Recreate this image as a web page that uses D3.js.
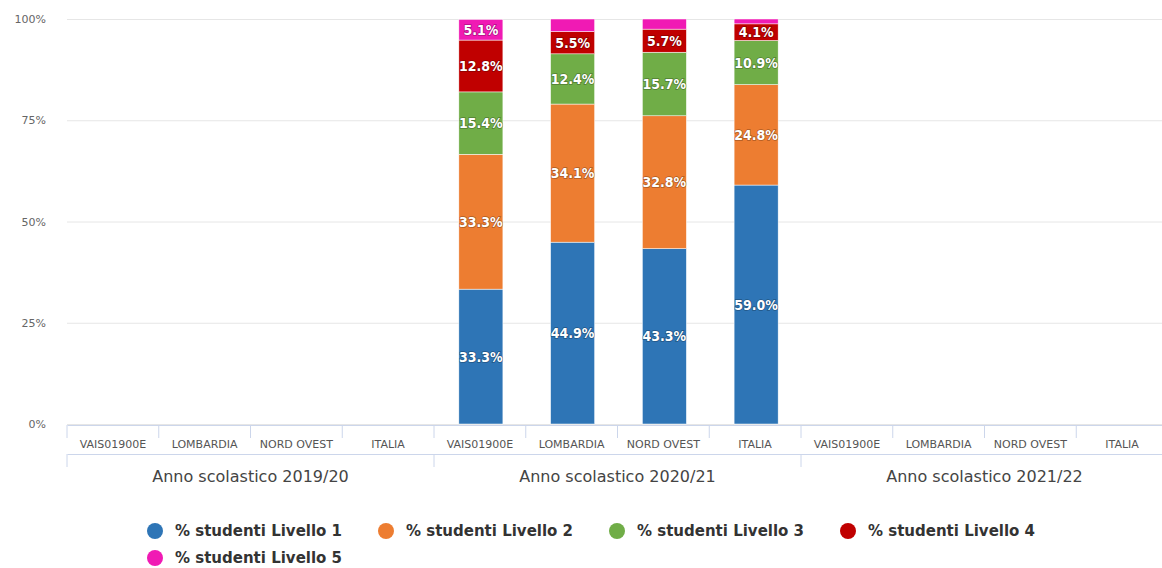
<!DOCTYPE html>
<html>
<head>
<meta charset="utf-8">
<script src="https://cdn.jsdelivr.net/npm/d3@7"></script>
<style>
  body { margin: 0; background: #fff; overflow: hidden; }
  svg { font-family: "DejaVu Sans", sans-serif; }
</style>
</head>
<body>
<svg id="chart" width="1162" height="568"></svg>
<script>
const groups = ["Anno scolastico 2019/20", "Anno scolastico 2020/21", "Anno scolastico 2021/22"];
const categories = ["VAIS01900E", "LOMBARDIA", "NORD OVEST", "ITALIA"];
const seriesNames = ["% studenti Livello 1", "% studenti Livello 2", "% studenti Livello 3", "% studenti Livello 4", "% studenti Livello 5"];
// values per series, one per category in group order (null = no data)
const livello1 = [null, null, null, null, 33.3, 44.9, 43.3, 59.0, null, null, null, null];
const livello2 = [null, null, null, null, 33.3, 34.1, 32.8, 24.8, null, null, null, null];
const livello3 = [null, null, null, null, 15.4, 12.4, 15.7, 10.9, null, null, null, null];
const livello4 = [null, null, null, null, 12.8, 5.5, 5.7, 4.1, null, null, null, null];
const livello5 = [null, null, null, null, 5.1, 3.1, 2.5, 1.2, null, null, null, null];
const yTicks = [0, 25, 50, 75, 100];

const colors = ["#2e75b6", "#ed7d31", "#70ad47", "#c00000", "#f01ab4"];
const seriesValues = [livello1, livello2, livello3, livello4, livello5];
const font = "DejaVu Sans, sans-serif";

const svg = d3.select("#chart");
// plot area runs a little past the right edge of the window, as in the original
const margin = { top: 19, right: -6, bottom: 144, left: 67 };
const width = 1162 - margin.left - margin.right;
const height = 568 - margin.top - margin.bottom;

const keys = [];
groups.forEach((g) => categories.forEach((c) => keys.push(g + "|" + c)));

const x = d3.scaleBand().domain(keys).range([0, width]);
const xGroup = d3.scaleBand().domain(groups).range([0, width]);
const y = d3.scaleLinear().domain([0, 100]).range([height, 0]);

const g = svg.append("g").attr("transform", `translate(${margin.left},${margin.top})`);

// gridlines + y labels
const yAxis = g.append("g")
  .call(d3.axisLeft(y).tickValues(yTicks).tickSize(-width).tickFormat((d) => d + "%"));
yAxis.attr("font-family", font);
yAxis.select(".domain").remove();
yAxis.selectAll(".tick line").attr("stroke", "#e6e6e6");
yAxis.selectAll(".tick text")
  .attr("x", -21)
  .attr("fill", "#666")
  .attr("font-size", "11px");

// stacked data
const stacked = keys.map((k, i) => {
  let base = 0;
  return seriesValues.map((vals, s) => {
    const v = vals[i];
    const seg = { key: k, s, v, y0: base, y1: base + (v || 0) };
    base += v || 0;
    return seg;
  });
}).flat().filter((d) => d.v != null);

const barW = x.bandwidth() * 0.48;

g.append("g").selectAll("rect")
  .data(stacked)
  .join("rect")
  .attr("x", (d) => x(d.key) + (x.bandwidth() - barW) / 2 + 1)
  .attr("width", barW)
  .attr("y", (d) => y(d.y1))
  .attr("height", (d) => y(d.y0) - y(d.y1))
  .attr("fill", (d) => colors[d.s])
  .attr("stroke", "#fff")
  .attr("stroke-width", 0.5);

g.append("g").selectAll("text")
  .data(stacked.filter((d) => y(d.y0) - y(d.y1) >= 16))
  .join("text")
  .attr("x", (d) => x(d.key) + x.bandwidth() / 2 + 1)
  .attr("y", (d) => (y(d.y0) + y(d.y1)) / 2)
  .attr("dy", "0.36em")
  .attr("text-anchor", "middle")
  .attr("font-family", "DejaVu Sans Condensed, DejaVu Sans, sans-serif")
  .attr("font-size", "14px")
  .attr("font-weight", "bold")
  .attr("fill", "#fff")
  .attr("stroke", "rgba(0,0,0,0.3)")
  .attr("stroke-width", 1.5)
  .attr("paint-order", "stroke")
  .text((d) => d.v.toFixed(1) + "%");

// category axis
const axisCol = "#ccd6eb";
const catAxis = g.append("g")
  .attr("transform", `translate(0,${height + 1})`)
  .call(d3.axisBottom(x).tickSize(0).tickFormat((d) => d.split("|")[1]));
catAxis.attr("font-family", font);
catAxis.select(".domain").attr("stroke", axisCol);
catAxis.selectAll(".tick text")
  .attr("y", 15)
  .attr("fill", "#555")
  .attr("font-size", "11px");

catAxis.selectAll(".sep")
  .data(keys)
  .join("line")
  .attr("x1", (d) => x(d)).attr("x2", (d) => x(d))
  .attr("y1", 0).attr("y2", 13)
  .attr("stroke", axisCol);

// group axis
const grpAxis = g.append("g")
  .attr("transform", `translate(0,${height + 30})`)
  .call(d3.axisBottom(xGroup).tickSize(0));
grpAxis.attr("font-family", font);
grpAxis.select(".domain").attr("stroke", axisCol);
grpAxis.selectAll(".tick text")
  .attr("y", 17)
  .attr("fill", "#444")
  .attr("font-size", "16px");
grpAxis.selectAll(".sep")
  .data(groups)
  .join("line")
  .attr("x1", (d) => xGroup(d)).attr("x2", (d) => xGroup(d))
  .attr("y1", 0).attr("y2", 13)
  .attr("stroke", axisCol);

// legend
const legend = svg.append("g");
const item = legend.selectAll("g")
  .data(seriesNames)
  .join("g")
  .attr("transform", (d, i) => `translate(${155 + (i % 4) * 231},${531 + Math.floor(i / 4) * 27})`);
item.append("circle").attr("r", 8).attr("fill", (d, i) => colors[i]);
item.append("text")
  .attr("x", 20)
  .attr("dy", "0.36em")
  .attr("font-size", "15px")
  .attr("font-weight", "bold")
  .attr("fill", "#333")
  .text((d) => d);
</script>
</body>
</html>
